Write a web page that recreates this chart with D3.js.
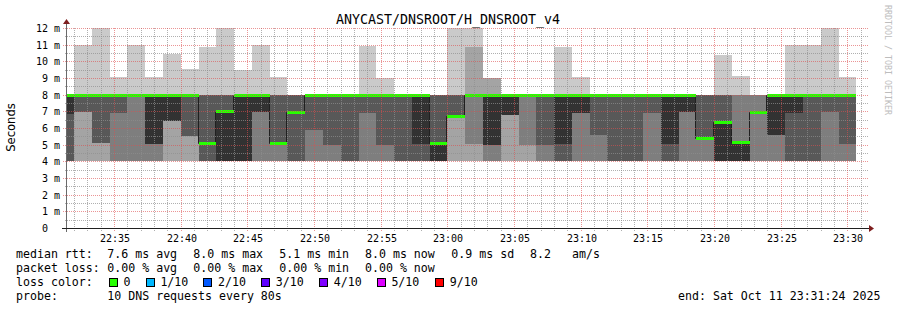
<!DOCTYPE html>
<html>
<head>
<meta charset="utf-8">
<script src="https://cdn.jsdelivr.net/npm/d3@7"></script>
<style>
body { margin: 0; background: #fff; }
svg { display: block; }
text { font-family: "DejaVu Sans Mono", monospace; fill: #000; white-space: pre; }
</style>
</head>
<body>
<script>
// smokeping style graph, 10 pings every 80s, one block per step

var day = "2025-10-11 "
var viewStart = "22:31:24"
var viewEnd = "23:31:24"
var stepSeconds = 80

var blockStart = ["22:30:36","22:31:56","22:33:16","22:34:36","22:35:56","22:37:16","22:38:36","22:39:56",
  "22:41:16","22:42:36","22:43:56","22:45:16","22:46:36","22:47:56","22:49:16","22:50:36","22:51:56",
  "22:53:16","22:54:36","22:55:56","22:57:16","22:58:36","22:59:56","23:01:16","23:02:36","23:03:56",
  "23:05:16","23:06:36","23:07:56","23:09:16","23:10:36","23:11:56","23:13:16","23:14:36","23:15:56",
  "23:17:16","23:18:36","23:19:56","23:21:16","23:22:36","23:23:56","23:25:16","23:26:36","23:27:56","23:29:16"]

// sorted ping times (ms), rank 1 = fastest
var ping1 = [4,4,4,4,4,4,4,4,4,4,4,4,4,4,4,4,4,4,4,4,4,4,4,4,4,4,4,4,4,4,4,4,4,4,4,4,4,4,4,4,4,4,4,4,4]
var ping2 = [4,4,4,4,4,4,4,4,4,4,4,4,4,4,4,4,4,4,4,4,4,4,4,4,4,4,4,4,4,4,4,4,4,4,4,4,4,4,4,4,4,4,4,4,4]
var ping3 = [4,6.96,5.12,4,4,4,6.44,5.52,4,4,4,4,4,4,4,4,4,4,4,4,4,4,6.72,5.04,4,6.8,5,4,4,4,4,4,4,4,4,4,4,4,4,4,4,4,4,4,4]
var ping4 = [4,6.96,5.12,6.9,8,5.04,6.44,5.52,4,4,4,6.96,5.08,4,5.88,5,4,6.9,5,4,4,4,6.72,8,5,6.8,8,5,4,6.9,5.58,4,4,6.9,4,6.96,5.4,4,4,6.96,5.6,4,4,6.96,5.04]
var ping5 = [6.84,8,8,8,8,5.04,6.44,8,5.1,4,4,6.96,5.08,6.94,8,8,8,8,8,8,5.04,4,6.72,8,5,6.8,8,8,5.04,6.9,8,8,8,8,5.04,6.96,5.4,4,4,6.96,5.6,6.88,8,8,8]
var ping6 = [8,8,8,8,8,8,8,8,5.1,7,8,8,5.08,6.94,8,8,8,8,8,8,8,5.08,6.72,8,8,8,8,8,8,8,8,8,8,8,8,8,5.4,6.38,5.14,6.96,8,8,8,8,8]
var ping7 = [8,8,8,8,8,8,8,8,8,8,8,8,8,8,8,8,8,8,8,8,8,8,8,8,8,8,8,8,8,8,8,8,8,8,8,8,8,8,5.14,6.96,8,8,8,8,8]
var ping8 = [8,8,8,8,8,8,8,8,8,8,8,8,8,8,8,8,8,8,8,8,8,8,8,8,8,8,8,8,8,8,8,8,8,8,8,8,8,8,8,8,8,8,8,8,8]
var ping9 = [8,8,8,8,8,8,8,8,8,8,8,8,8,8,8,8,8,8,8,8,8,8,8,10.88,9,8,8,8,8,8,8,8,8,8,8,8,8,8,8,8,8,8,8,8,8]
var ping10 = [8,10.98,12,9.04,10.98,9.04,10.44,9.54,10.86,12,9.48,10.98,9.08,8,8,8,8,10.92,9,8,8,8,12,12,9,8,8,8,10.86,9.04,8,8,8,8,8,8,8,10.38,9.12,8,8,10.98,10.98,12,9.04]

var medianRtt = [8,8,8,8,8,8,8,8,5.1,7,8,8,5.08,6.94,8,8,8,8,8,8,8,5.08,6.72,8,8,8,8,8,8,8,8,8,8,8,8,8,5.4,6.38,5.14,6.96,8,8,8,8,8]
var lossCount = [0,0,0,0,0,0,0,0,0,0,0,0,0,0,0,0,0,0,0,0,0,0,0,0,0,0,0,0,0,0,0,0,0,0,0,0,0,0,0,0,0,0,0,0,0]

var yTickLabels = ["0  ","1 m","2 m","3 m","4 m","5 m","6 m","7 m","8 m","9 m","10 m","11 m","12 m"]
var lossLabels = ["0","1/10","2/10","3/10","4/10","5/10","9/10"]
var lossColors = ["#26ff00","#00b8ff","#0059ff","#5e00ff","#7e00ff","#dd00ff","#ff0000"]

var statsRtt = ["7.6 ms avg","8.0 ms max","5.1 ms min","8.0 ms now","0.9 ms sd","8.2","am/s"]
var statsLoss = ["0.00 % avg","0.00 % max","0.00 % min","0.00 % now"]

var W = 897, H = 310
var pL = 67, pR = 867, pT = 28, pB = 228

var parse = d3.timeParse("%Y-%m-%d %H:%M:%S")

var svg = d3.select("body").append("svg")
  .attr("width", W)
  .attr("height", H)

var x = d3.scaleTime()
  .domain([parse(day + viewStart), parse(day + viewEnd)])
  .range([pL, pR])

var y = d3.scaleLinear()
  .domain([0, 12])
  .range([pB, pT])

var pings = [ping1, ping2, ping3, ping4, ping5, ping6, ping7, ping8, ping9, ping10]

var blocks = blockStart.map(function(s, i){
  return {t: parse(day + s), i: i}
})
var lastT = d3.timeSecond.offset(blocks[blocks.length-1].t, stepSeconds)
var pts = blocks.concat([{t: lastT, i: blocks.length-1}])

svg.append("clipPath").attr("id", "plot")
  .append("rect")
  .attr("x", pL).attr("y", pT)
  .attr("width", pR-pL).attr("height", pB-pT)

var g = svg.append("g").attr("clip-path", "url(#plot)")

// smoke: layer k spans rank k .. rank 11-k, inner layers darker
var half = 5
d3.range(1, half+1).forEach(function(k){
  var lo = pings[k-1], hi = pings[10-k]
  var c = Math.floor(190/half*(half-k)) + 50
  var area = d3.area()
    .curve(d3.curveStepAfter)
    .x(function(d){ return x(d.t) })
    .y0(function(d){ return y(lo[d.i]) })
    .y1(function(d){ return y(hi[d.i]) })
  g.append("path")
    .datum(pts)
    .attr("d", area)
    .attr("fill", d3.rgb(c, c, c))
    .attr("shape-rendering", "crispEdges")
})

// thin median line
var mline = d3.line()
  .curve(d3.curveStepAfter)
  .x(function(d){ return Math.round(x(d.t)) - 0.5 })
  .y(function(d){ return Math.round(y(medianRtt[d.i])) + 0.5 })
g.append("path")
  .datum(pts)
  .attr("d", mline)
  .attr("fill", "none")
  .attr("stroke", "#202020")
  .attr("stroke-width", 1)

// median colored by loss
g.selectAll("rect.median")
  .data(blocks)
  .enter()
  .append("rect")
  .classed("median", true)
  .attr("x", function(d){ return Math.round(x(d.t)) })
  .attr("width", function(d){ return Math.round(x(d3.timeSecond.offset(d.t, stepSeconds))) - Math.round(x(d.t)) })
  .attr("y", function(d){ return Math.round(y(medianRtt[d.i])) - 1 })
  .attr("height", 3)
  .attr("fill", function(d){ return lossColors[lossCount[d.i]] })
  .attr("shape-rendering", "crispEdges")

// grid on top
var grid = svg.append("g").attr("shape-rendering", "crispEdges")
var minorV = d3.timeMinute.every(1).range(x.domain()[0], d3.timeSecond.offset(x.domain()[1], 1))
  .filter(function(t){ return t.getMinutes() % 5 != 0 })
var majorV = d3.timeMinute.every(5).range(x.domain()[0], d3.timeSecond.offset(x.domain()[1], 1))
var minorH = d3.range(0.5, 12.01, 1)
var majorH = d3.range(1, 12.01, 1)

grid.selectAll("line.minorv")
  .data(minorV).enter().append("line")
  .attr("x1", function(d){ return Math.round(x(d)) - 0.5 })
  .attr("x2", function(d){ return Math.round(x(d)) - 0.5 })
  .attr("y1", pT).attr("y2", pB + 3)
  .attr("stroke", "rgba(143,143,143,0.7)")
  .attr("stroke-dasharray", "1,1")

grid.selectAll("line.minorh")
  .data(minorH).enter().append("line")
  .attr("x1", pL - 2).attr("x2", pR + 2)
  .attr("y1", function(d){ return Math.round(y(d)) + 0.5 })
  .attr("y2", function(d){ return Math.round(y(d)) + 0.5 })
  .attr("stroke", "rgba(143,143,143,0.7)")
  .attr("stroke-dasharray", "1,1")

grid.selectAll("line.majorv")
  .data(majorV).enter().append("line")
  .attr("x1", function(d){ return Math.round(x(d)) - 0.5 })
  .attr("x2", function(d){ return Math.round(x(d)) - 0.5 })
  .attr("y1", pT).attr("y2", pB + 3)
  .attr("stroke", "rgba(222,79,79,0.6)")
  .attr("stroke-dasharray", "1,1")

grid.selectAll("line.majorh")
  .data(majorH).enter().append("line")
  .attr("x1", pL - 4).attr("x2", pR + 2)
  .attr("y1", function(d){ return Math.round(y(d)) + 0.5 })
  .attr("y2", function(d){ return Math.round(y(d)) + 0.5 })
  .attr("stroke", "rgba(222,79,79,0.6)")
  .attr("stroke-dasharray", "1,1")

// axes
svg.append("line")
  .attr("x1", pL - 0.5).attr("x2", pL - 0.5)
  .attr("y1", pB + 4).attr("y2", pT - 6)
  .attr("stroke", "#6a6a6a")
svg.append("line")
  .attr("x1", pL - 5).attr("x2", pR + 4)
  .attr("y1", pB + 0.5).attr("y2", pB + 0.5)
  .attr("stroke", "#1f1f1f")
svg.append("path")
  .attr("d", "M" + (pL - 4) + "," + (pT - 4) + "L" + (pL + 3) + "," + (pT - 4) + "L" + (pL - 0.5) + "," + (pT - 9) + "Z")
  .attr("fill", "#7f1f1f")
svg.append("path")
  .attr("d", "M" + (pR + 2) + "," + (pB - 3) + "L" + (pR + 2) + "," + (pB + 4) + "L" + (pR + 7) + "," + (pB + 0.5) + "Z")
  .attr("fill", "#7f1f1f")

svg.selectAll("text.ylab")
  .data(yTickLabels)
  .enter().append("text")
  .classed("ylab", true)
  .attr("x", 60)
  .attr("y", function(d, i){ return Math.round(y(i)) + 4 })
  .attr("text-anchor", "end")
  .attr("font-size", "10px")
  .text(function(d){ return d })

svg.selectAll("text.xlab")
  .data(majorV.filter(function(t){ return x(t) > pL + 5 }))
  .enter().append("text")
  .classed("xlab", true)
  .attr("x", function(d){ return Math.round(x(d)) })
  .attr("y", 242)
  .attr("text-anchor", "middle")
  .attr("font-size", "10px")
  .text(d3.timeFormat("%H:%M"))

svg.append("text")
  .attr("x", 448).attr("y", 24)
  .attr("text-anchor", "middle")
  .attr("font-size", "13.3px")
  .text("ANYCAST/DNSROOT/H_DNSROOT_v4")

svg.append("text")
  .attr("transform", "translate(15,127.5) rotate(-90)")
  .attr("text-anchor", "middle")
  .attr("font-size", "11.6px")
  .style("font-family", "'DejaVu Sans', sans-serif")
  .text("Seconds")

svg.append("text")
  .attr("transform", "translate(885,5) rotate(90)")
  .attr("font-size", "8.3px")
  .style("fill", "#bdbdbd")
  .text("RRDTOOL / TOBI OETIKER")

// legend
var fs = "11.6px"
var leg = svg.append("g").attr("font-size", fs)

leg.append("text").attr("x", 16).attr("y", 258).text("median rtt:")
var rttX = [107.3, 193.3, 279.3, 365, 451.3, 530, 572]
leg.selectAll("text.rtt")
  .data(statsRtt).enter().append("text")
  .attr("x", function(d, i){ return rttX[i] })
  .attr("y", 258)
  .text(function(d){ return d })

leg.append("text").attr("x", 16).attr("y", 272).text("packet loss:")
leg.selectAll("text.loss")
  .data(statsLoss).enter().append("text")
  .attr("x", function(d, i){ return rttX[i] })
  .attr("y", 272)
  .text(function(d){ return d })

leg.append("text").attr("x", 16).attr("y", 286).text("loss color:")
var boxX = [108.7, 145.7, 203.3, 261, 319, 376.7, 435]
leg.selectAll("rect.lc")
  .data(lossColors).enter().append("rect")
  .attr("x", function(d, i){ return boxX[i] + 0.5 })
  .attr("y", 278.5)
  .attr("width", 8).attr("height", 8)
  .attr("fill", function(d){ return d })
  .attr("stroke", "#000")
  .attr("shape-rendering", "crispEdges")
leg.selectAll("text.lcl")
  .data(lossLabels).enter().append("text")
  .attr("x", function(d, i){ return boxX[i] + 14.7 })
  .attr("y", 286)
  .text(function(d){ return d })

leg.append("text").attr("x", 16).attr("y", 300).text("probe:")
leg.append("text").attr("x", 107.3).attr("y", 300).text("10 DNS requests every 80s")
leg.append("text").attr("x", 678).attr("y", 300).text("end: Sat Oct 11 23:31:24 2025")
</script>
</body>
</html>
